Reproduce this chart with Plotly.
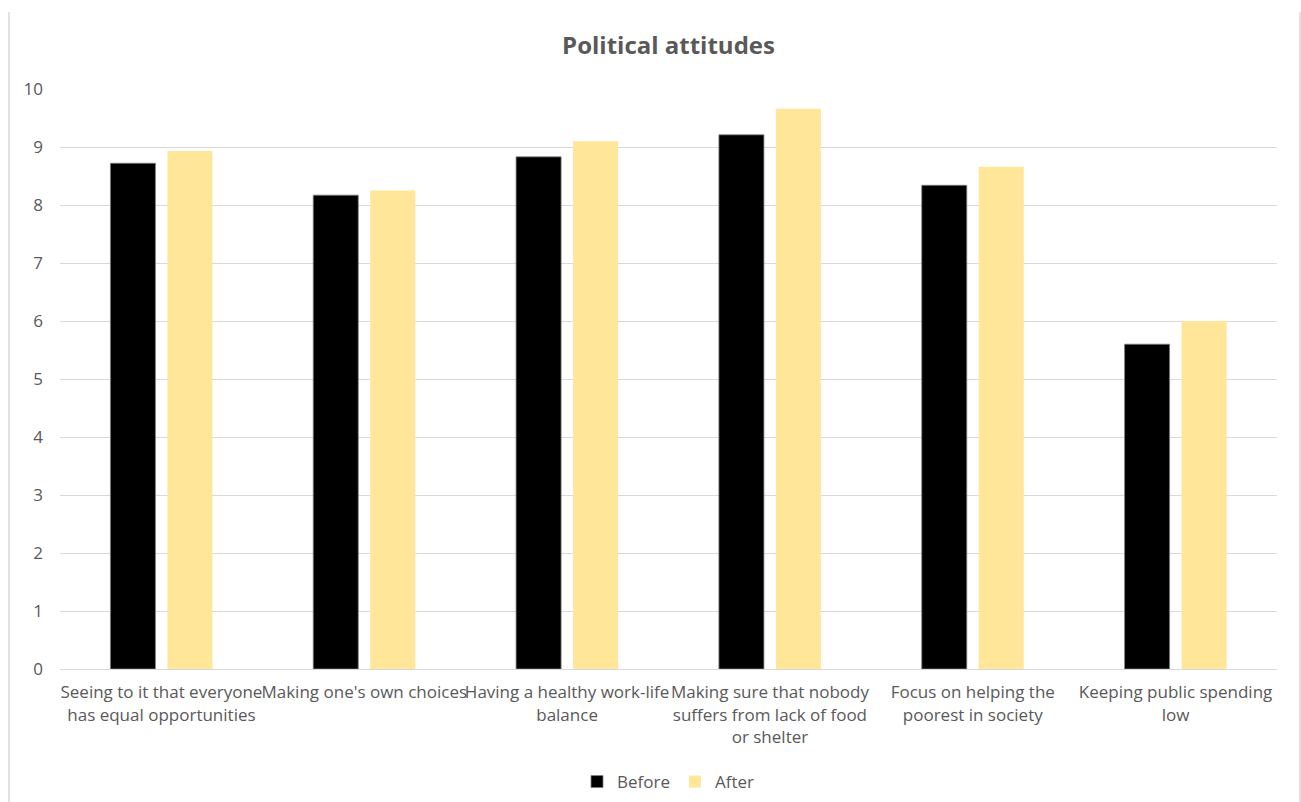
import plotly.graph_objects as go

categories = [
    "Seeing to it that everyone<br>has equal opportunities",
    "Making one's own choices",
    "Having a healthy work-life<br>balance",
    "Making sure that nobody<br>suffers from lack of food<br>or shelter",
    "Focus on helping the<br>poorest in society",
    "Keeping public spending<br>low",
]
before = [8.72, 8.17, 8.83, 9.21, 8.34, 5.60]
after = [8.93, 8.25, 9.10, 9.66, 8.66, 6.00]
y_ticks = [0, 1, 2, 3, 4, 5, 6, 7, 8, 9, 10]

W, H = 1301, 802
L, R, T, B = 60, 24, 89, 133
FONT = "Open Sans"
GREY = "#595959"

fig = go.Figure()
fig.add_trace(go.Bar(name="Before", x=categories, y=before,
                     marker=dict(color="#000000", line=dict(color="#7F7F7F", width=0.8))))
fig.add_trace(go.Bar(name="After", x=categories, y=after,
                     marker=dict(color="#FFE699", line=dict(width=0))))

pw, ph = W - L - R, H - T - B
def px_x(x):
    return (x - L) / pw
def px_y(y):
    return (H - B - y) / ph

shapes = [
    dict(type="line", xref="paper", yref="paper", x0=px_x(9), x1=px_x(9), y0=px_y(12), y1=px_y(802),
         line=dict(color="#D9D9D9", width=1.5)),
    dict(type="line", xref="paper", yref="paper", x0=px_x(1300), x1=px_x(1300), y0=px_y(12), y1=px_y(802),
         line=dict(color="#D9D9D9", width=1.5)),
]

fig.update_layout(
    width=W, height=H,
    margin=dict(l=L, r=R, t=T, b=B, autoexpand=False),
    paper_bgcolor="white", plot_bgcolor="white",
    barmode="group", bargap=0.438, bargroupgap=0.21,
    title=dict(text="<b>Political attitudes</b>", x=0.5, xref="paper", xanchor="center",
               y=1 - 46 / H, yref="container", yanchor="middle",
               font=dict(family=FONT, size=24, color=GREY)),
    font=dict(family=FONT, size=17, color=GREY),
    legend=dict(orientation="h", x=0.5, xanchor="center", xref="paper",
                y=px_y(782), yanchor="middle", font=dict(family=FONT, size=17, color=GREY),
                itemwidth=30, traceorder="normal"),
    shapes=shapes,
    xaxis=dict(showgrid=False, showline=True, linecolor="#D9D9D9", linewidth=1,
               ticks="", tickfont=dict(family=FONT, size=17, color=GREY),
               ticklabelstandoff=8, tickangle=0, automargin=False),
    yaxis=dict(range=[0, 10], tickvals=y_ticks, showgrid=True, gridcolor="#D9D9D9", gridwidth=1.3,
               zeroline=False, showline=False, ticks="",
               tickfont=dict(family=FONT, size=17, color=GREY), ticklabelstandoff=16,
               automargin=False),
)

fig.write_html("out.html")
